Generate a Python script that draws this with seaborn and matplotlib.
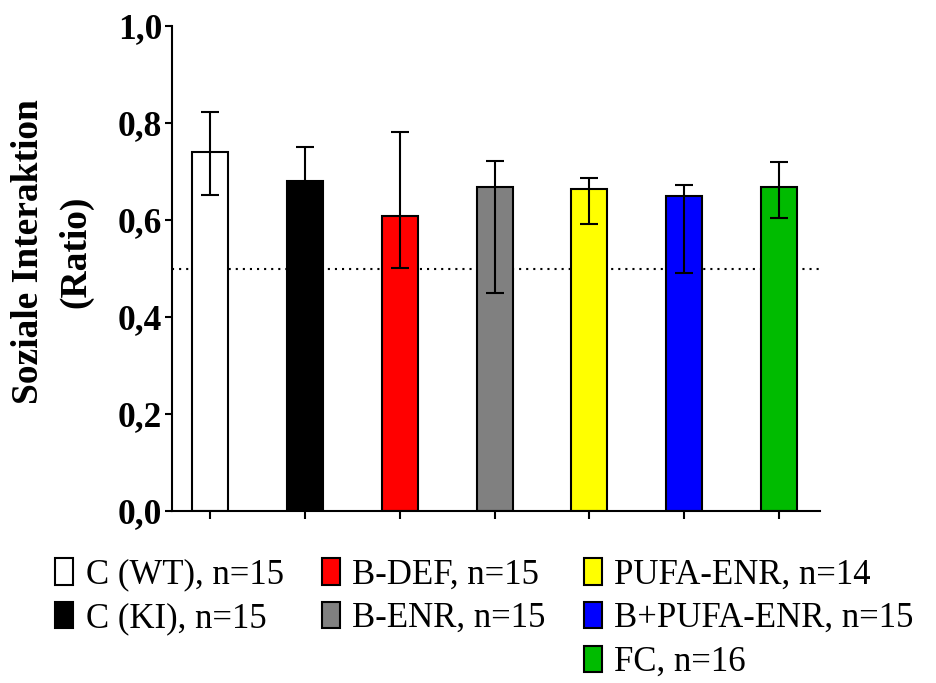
# import libraries

## Pandas keeps the group table for seaborn
import pandas as pd

## seaborn draws the bars
import seaborn as sns

## matplotlib for error bars, legend and axis styling
import matplotlib.pyplot as plt
from matplotlib.patches import Patch

# Data
groups = ['C (WT)', 'C (KI)', 'B-DEF', 'B-ENR', 'PUFA-ENR', 'B+PUFA-ENR', 'FC']
n_values = [15, 15, 15, 15, 14, 15, 16]
ratio_mean = [0.740, 0.680, 0.608, 0.668, 0.664, 0.649, 0.668]
err_low = [0.652, 0.609, 0.501, 0.449, 0.592, 0.491, 0.604]
err_high = [0.823, 0.751, 0.781, 0.722, 0.687, 0.672, 0.720]
bar_colors = ['#FFFFFF', '#000000', '#FF0000', '#808080', '#FFFF00', '#0000FF', '#00BB00']
chance_level = 0.5

y_ticks = [0.0, 0.2, 0.4, 0.6, 0.8, 1.0]
y_tick_labels = ['0,0', '0,2', '0,4', '0,6', '0,8', '1,0']

## Build the table
df = pd.DataFrame({'group': groups, 'ratio': ratio_mean})

sns.set_style('ticks')
plt.rcParams['font.family'] = ['Liberation Serif', 'DejaVu Serif']
plt.rcParams['text.color'] = 'black'
plt.rcParams['axes.labelcolor'] = 'black'

fig = plt.figure(figsize=(9.37, 6.83), dpi=100)
ax = fig.add_axes([0.1836, 0.2518, 0.6915, 0.7101])

## Dotted line at 0.5 behind the bars
ax.axhline(chance_level, color='black', lw=1.5, linestyle=(0, (1, 2.4)), zorder=0)

## Bars (saturation=1 keeps the pure colours)
sns.barplot(data=df, x='group', y='ratio', hue='group', palette=bar_colors,
            saturation=1, errorbar=None, width=0.38, edgecolor='black',
            linewidth=1.5, legend=False, ax=ax, zorder=2)

## Asymmetric error bars
yerr = [[m - lo for m, lo in zip(ratio_mean, err_low)],
        [hi - m for m, hi in zip(ratio_mean, err_high)]]
ax.errorbar(range(len(groups)), ratio_mean, yerr=yerr, fmt='none',
            ecolor='black', elinewidth=1.5, capsize=6.5, capthick=1.5, zorder=3)

## Axes styling
ax.set_xlim(-0.40, 6.43)
ax.set_ylim(0, 1.0)
ax.set_yticks(y_ticks)
ax.set_yticklabels(y_tick_labels, fontsize=25.5, fontweight='bold')
ax.set_xticks(range(len(groups)))
ax.set_xticklabels([])
ax.set_xlabel('')
ax.tick_params(axis='y', length=5, width=1.5, pad=2, colors='black')
ax.tick_params(axis='x', length=6, width=1.5, colors='black')
for side in ['top', 'right']:
    ax.spines[side].set_visible(False)
for side in ['left', 'bottom']:
    ax.spines[side].set_linewidth(1.5)
    ax.spines[side].set_color('black')

ax.set_ylabel('Soziale Interaktion\n(Ratio)', fontsize=27, fontweight='bold',
              linespacing=1.45)
ax.yaxis.set_label_coords(-0.122, 0.534)

## Legend: three columns, blank slots keep C groups and B groups in two rows
handles = []
labels = []
blank = Patch(facecolor='none', edgecolor='none')
columns = [[0, 1, None], [2, 3, None], [4, 5, 6]]
for col in columns:
    for idx in col:
        if idx is None:
            handles.append(blank)
            labels.append('')
        else:
            handles.append(Patch(facecolor=bar_colors[idx], edgecolor='black', linewidth=1.5))
            labels.append(f'{groups[idx]}, n={n_values[idx]}')

fig.legend(handles, labels, ncol=3, loc='upper left',
           bbox_to_anchor=(55 / 937, 1 - 558 / 683), frameon=False,
           fontsize=25, handlelength=0.53, handleheight=0.8,
           handletextpad=0.35, columnspacing=1.1, labelspacing=0.3,
           borderpad=0, borderaxespad=0)

fig.savefig('out.png', dpi=100)
